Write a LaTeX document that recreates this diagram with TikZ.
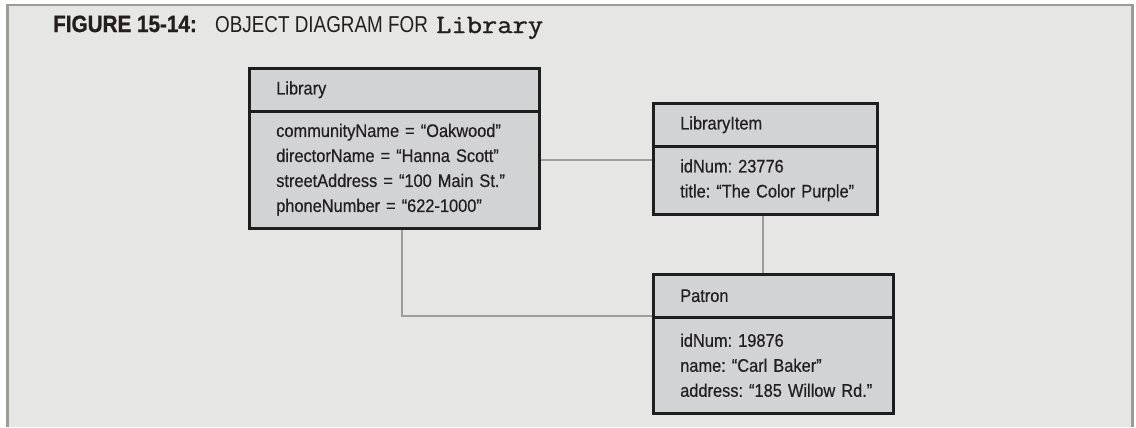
\documentclass[tikz,border=0pt]{standalone}
\usepackage{fontspec}
\setmainfont{Liberation Sans}[FakeStretch=0.9,FakeBold=0.5,WordSpace=1.7]
\newfontfamily\titleboldfont{Liberation Sans}[FakeStretch=0.88,FakeBold=1]
\newfontfamily\titlelightfont{Liberation Sans}[FakeStretch=0.82]
\newfontfamily\codefont{Latin Modern Mono}[FakeStretch=1.12,FakeBold=1.2]
\definecolor{framegray}{HTML}{9B9C97}
\definecolor{bggray}{HTML}{E6E6E4}
\definecolor{boxfill}{HTML}{D2D3D5}
\definecolor{boxline}{HTML}{1E1E1E}
\definecolor{conngray}{HTML}{9D9E98}
\definecolor{inkcol}{HTML}{231F20}
\frenchspacing
\tikzset{
  objbox/.style={draw=boxline, fill=boxfill, line width=2.5bp, anchor=north west,
    inner xsep=27bp, inner ysep=0bp, align=left, text=inkcol,
    font=\frenchspacing\fontsize{18.2bp}{25bp}\selectfont},
  conn/.style={draw=conngray, line width=2bp},
  titletext/.style={anchor=base west, inner sep=0pt, text=inkcol}
}
\begin{document}
\begin{tikzpicture}[x=1bp,y=-1bp]
\useasboundingbox (0,0) rectangle (1136,427);
\fill[bggray] (7.5,5) rectangle (1132.5,427);
\draw[framegray, line width=2.6bp] (7.5,427) -- (7.5,5) -- (1132.5,5) -- (1132.5,427);
% title
\node[titletext, font=\titleboldfont\bfseries\fontsize{23.5bp}{27bp}\selectfont] (tfig) at (53,32) {FIGURE 15-14:};
\node[titletext, font=\titlelightfont\fontsize{23bp}{27bp}\selectfont] (tobj) at (215,32) {OBJECT DIAGRAM FOR};
\node[titletext, font=\codefont\fontsize{26.5bp}{30bp}\selectfont] (tlib) at (436,33) {Library};
% Library
\node[objbox, text width=236bp, minimum height=43bp] (libH) at (248,67) {Library};
\node[objbox, text width=236bp, minimum height=117bp] (libB) at (248,110) {\mbox{communityName = “Oakwood”}\\\mbox{directorName = “Hanna Scott”}\\\mbox{streetAddress = “100 Main St.”}\\\mbox{phoneNumber = “622-1000”}};
% LibraryItem
\node[objbox, text width=170bp, minimum height=43bp] (itemH) at (652,102) {LibraryItem};
\node[objbox, text width=170bp, minimum height=68bp] (itemB) at (652,145) {\mbox{idNum: 23776}\\\mbox{title: “The Color Purple”}};
% Patron
\node[objbox, text width=186bp, minimum height=43bp] (patH) at (652,273) {Patron};
\node[objbox, text width=186bp, minimum height=96bp] (patB) at (652,316) {\mbox{idNum: 19876}\\\mbox{name: “Carl Baker”}\\\mbox{address: “185 Willow Rd.”}};
% connectors
\coordinate (k1) at (0,160);
\coordinate (k2) at (402,0);
\coordinate (k3) at (763,0);
\draw[conn] (libB.east |- k1) -- (itemB.west |- k1);
\draw[conn] (k3 |- itemB.south) -- (k3 |- patH.north);
\draw[conn] (k2 |- libB.south) -- (k2 |- patB.north west) -- (patB.north west);
\end{tikzpicture}
\end{document}
